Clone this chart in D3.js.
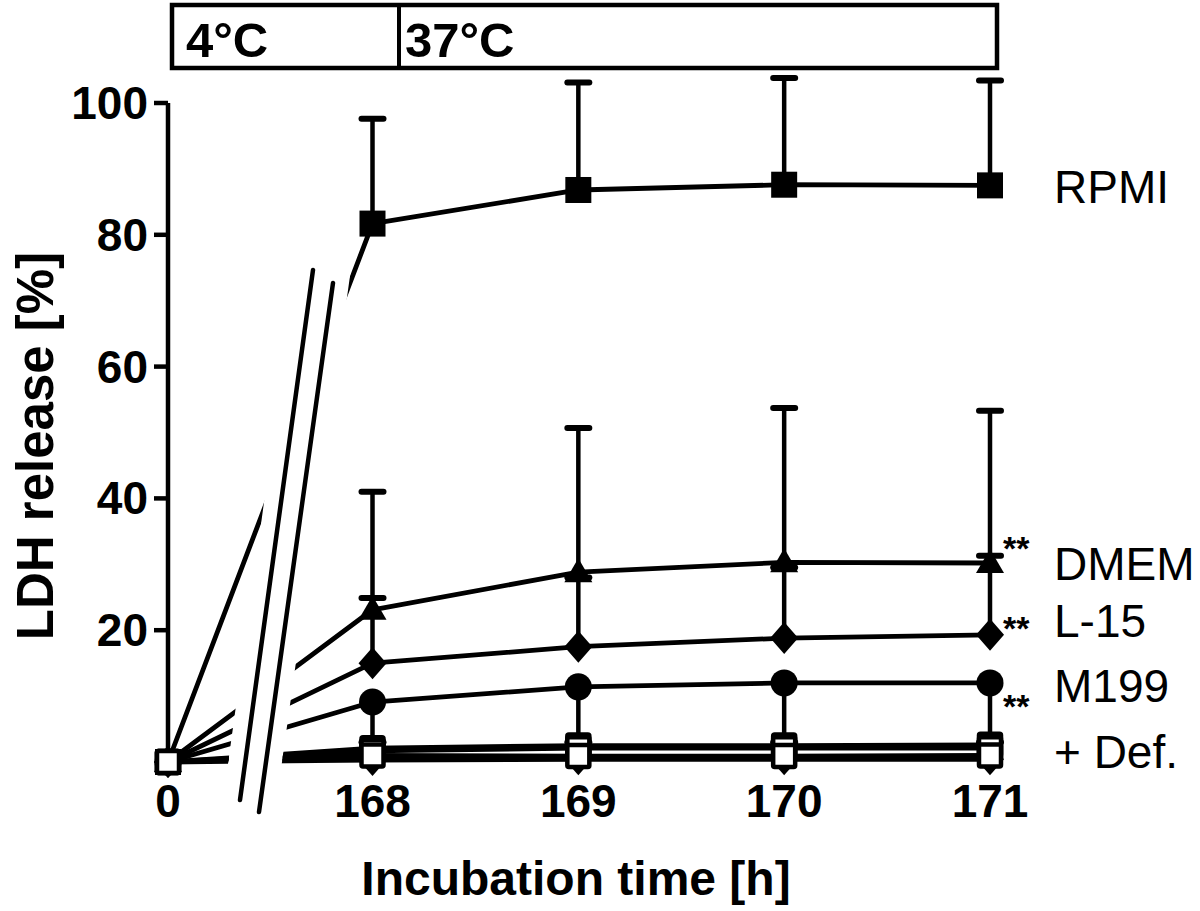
<!DOCTYPE html>
<html>
<head>
<meta charset="utf-8">
<script src="https://cdn.jsdelivr.net/npm/d3@7"></script>
<style>
  html, body { margin: 0; padding: 0; background: #fff; }
  svg { display: block; }
  text { font-family: "Liberation Sans", Arial, Helvetica, sans-serif; }
</style>
</head>
<body>
<svg id="chart" width="1200" height="911"></svg>
<script>
// ---- data ----
const times = [0, 168, 169, 170, 171];
const xTickLabels = ["0", "168", "169", "170", "171"];
const yTicks = [20, 40, 60, 80, 100];

const rpmi   = [0, 81.7, 86.8, 87.6, 87.5];
const rpmiSD = [0, 15.9, 16.3, 16.2, 15.9];
const dmem   = [0, 23.1, 28.8, 30.3, 30.2];
const dmemSD = [0, 17.9, 21.9, 23.4, 23.1];
const l15    = [0, 15.0, 17.5, 18.8, 19.3];
const l15SD  = [0, 9.9, 10.5, 10.7, 12.0];
const m199   = [0, 9.1, 11.4, 12.0, 12.0];
const m199SD = [0, 6.1, 8.4, 9.0, 9.0];

const rpmiDef = [0, 2.1, 2.5, 2.5, 2.6];
const dmemDef = [0, 1.7, 2.1, 2.1, 2.1];
const m199Def = [0, 1.0, 0.9, 0.9, 1.0];
const l15Def  = [0, 0.3, 0.4, 0.4, 0.4];

const seriesLabels = ["RPMI", "DMEM", "L-15", "M199", "+ Def."];
const tempLabels = ["4°C", "37°C"];

// ---- setup ----
const svg = d3.select("#chart");
const x = d3.scaleLinear().domain([0, 168, 171]).range([168, 372.5, 990]);
const y = d3.scaleLinear().domain([0, 100]).range([762, 103]);

const series = [
  {v: rpmi, sd: rpmiSD, dir: 1, shape: "square", fill: "#000"},
  {v: dmem, sd: dmemSD, dir: 1, shape: "triangle", fill: "#000"},
  {v: l15, sd: l15SD, dir: 1, shape: "diamond", fill: "#000"},
  {v: m199, sd: m199SD, dir: -1, shape: "circle", fill: "#000"},
  {v: l15Def, sd: null, shape: "diamond", fill: "#000"},
  {v: rpmiDef, sd: null, shape: "square", fill: "#fff"},
  {v: dmemDef, sd: null, shape: "square", fill: "#fff"},
  {v: m199Def, sd: null, shape: "square", fill: "#fff"}
];

// ---- clip for broken x axis ----
const bx1 = yy => 313 - (yy - 270) * 0.1377;
const bx2 = yy => 333 - (yy - 283) * 0.1399;
const defs = svg.append("defs");
const cp = defs.append("clipPath").attr("id", "brk");
cp.append("polygon").attr("points",
  [[0,0],[bx1(0)-17,0],[bx1(911)-17,911],[0,911]].map(p=>p.join(",")).join(" "));
cp.append("polygon").attr("points",
  [[bx2(0)+16,0],[1200,0],[1200,911],[bx2(911)+16,911]].map(p=>p.join(",")).join(" "));

// ---- top temperature box ----
svg.append("rect").attr("x", 172).attr("y", 5).attr("width", 825).attr("height", 63)
  .attr("fill", "none").attr("stroke", "#000").attr("stroke-width", 4.5);
svg.append("line").attr("x1", 399).attr("x2", 399).attr("y1", 5).attr("y2", 68)
  .attr("stroke", "#000").attr("stroke-width", 4);
svg.append("text").attr("x", 186).attr("y", 57).attr("font-size", 49).attr("font-weight", "bold").text(tempLabels[0]);
svg.append("text").attr("x", 405).attr("y", 57).attr("font-size", 49).attr("font-weight", "bold").text(tempLabels[1]);

// ---- y axis ----
const yAxis = svg.append("g");
yAxis.append("line").attr("x1", x(0)).attr("x2", x(0)).attr("y1", y(100)).attr("y2", y(0))
  .attr("stroke", "#000").attr("stroke-width", 4.5);
yAxis.selectAll("line.tick").data(yTicks).enter().append("line")
  .attr("x1", x(0) - 14).attr("x2", x(0)).attr("y1", d => y(d)).attr("y2", d => y(d))
  .attr("stroke", "#000").attr("stroke-width", 4.5);
yAxis.selectAll("text").data(yTicks).enter().append("text")
  .attr("x", x(0) - 20).attr("y", d => y(d) + 16).attr("text-anchor", "end")
  .attr("font-size", 46).attr("font-weight", "bold").text(d => d);

// x tick labels
svg.selectAll("text.xt").data(times).enter().append("text").attr("class", "xt")
  .attr("x", d => x(d)).attr("y", 817).attr("text-anchor", "middle")
  .attr("font-size", 46).attr("font-weight", "bold").text((d, i) => xTickLabels[i]);

// axis titles
svg.append("text").attr("x", 576).attr("y", 895).attr("text-anchor", "middle")
  .attr("font-size", 48).attr("font-weight", "bold").text("Incubation time [h]");
svg.append("text").attr("transform", "translate(53,446) rotate(-90)").attr("text-anchor", "middle")
  .attr("font-size", 51).attr("font-weight", "bold").text("LDH release [%]");

// ---- error bars ----
const eb = svg.append("g").attr("stroke", "#000");
series.forEach(s => {
  if (!s.sd) return;
  times.forEach((t, i) => {
    if (i === 0) return;
    const end = s.v[i] + s.dir * s.sd[i];
    eb.append("line").attr("x1", x(t)).attr("x2", x(t)).attr("y1", y(s.v[i])).attr("y2", y(end))
      .attr("stroke-width", 4.5);
    eb.append("line").attr("x1", x(t) - 11).attr("x2", x(t) + 11).attr("y1", y(end)).attr("y2", y(end))
      .attr("stroke-width", 6).attr("stroke-linecap", "round");
  });
});

// ---- lines ----
const lineGen = d3.line().x((d, i) => x(times[i])).y(d => y(d));
const lg = svg.append("g").attr("clip-path", "url(#brk)");
series.forEach(s => {
  lg.append("path").attr("d", lineGen(s.v)).attr("fill", "none")
    .attr("stroke", "#000").attr("stroke-width", 4.8).attr("stroke-linejoin", "round");
});

// break marks
[[313,270,240,800],[333,283,259,812]].forEach(b => {
  svg.append("line").attr("x1", b[0]).attr("y1", b[1]).attr("x2", b[2]).attr("y2", b[3])
    .attr("stroke", "#000").attr("stroke-width", 4.5).attr("stroke-linecap", "round");
});

// ---- markers ----
const mk = svg.append("g");
function marker(shape, cx, cy, fill) {
  if (shape === "square") {
    if (fill === "#fff") {
      mk.append("rect").attr("x", cx - 11).attr("y", cy - 11).attr("width", 22).attr("height", 22)
        .attr("fill", "#fff").attr("stroke", "#000").attr("stroke-width", 4.5).attr("rx", 1.5);
    } else {
      mk.append("rect").attr("x", cx - 13).attr("y", cy - 13).attr("width", 26).attr("height", 26).attr("fill", "#000");
    }
  } else if (shape === "triangle") {
    mk.append("path").attr("d", `M${cx},${cy-14}L${cx+14},${cy+10}L${cx-14},${cy+10}Z`).attr("fill", "#000");
  } else if (shape === "diamond") {
    mk.append("path").attr("d", `M${cx},${cy-16}L${cx+14},${cy}L${cx},${cy+16}L${cx-14},${cy}Z`).attr("fill", "#000");
  } else if (shape === "circle") {
    mk.append("circle").attr("cx", cx).attr("cy", cy).attr("r", 13.5).attr("fill", "#000");
  }
}
series.forEach(s => {
  times.forEach((t, i) => marker(s.shape, x(t), y(s.v[i]), s.fill));
});

// ---- series labels ----
const labBase = [203, 580, 637, 702, 768];
seriesLabels.forEach((l, i) => {
  svg.append("text").attr("x", 1054).attr("y", labBase[i]).attr("font-size", 46).text(l);
});
// significance stars
[[1003, 560], [1003, 640], [1003, 718]].forEach(p => {
  svg.append("text").attr("x", p[0]).attr("y", p[1]).attr("font-size", 34).attr("font-weight", "bold").text("**");
});
</script>
</body>
</html>
